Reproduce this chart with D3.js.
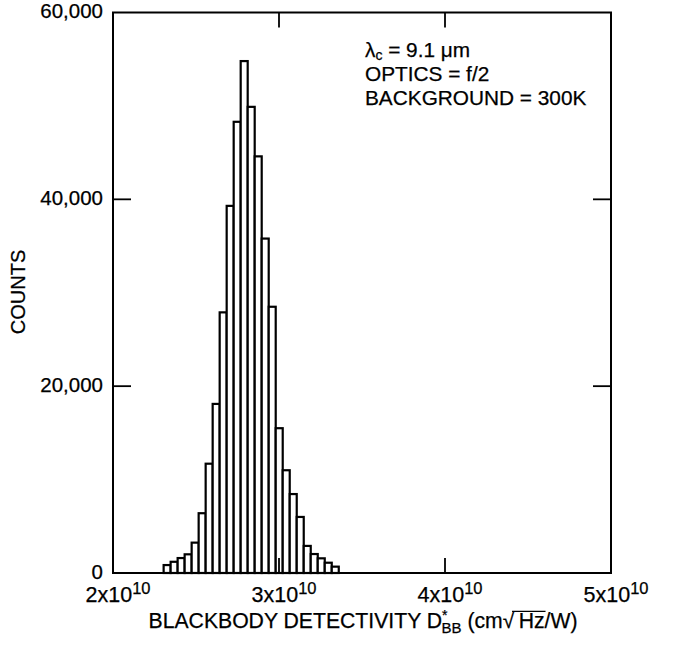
<!DOCTYPE html>
<html>
<head>
<meta charset="utf-8">
<script src="https://cdn.jsdelivr.net/npm/d3@7/dist/d3.min.js"></script>
<style>
  html, body { margin: 0; padding: 0; background: #fff; }
  svg { display: block; }
  text { font-family: "Liberation Sans", Arial, Helvetica, sans-serif; fill: #000; stroke: #000; stroke-width: 0.25px; }
</style>
</head>
<body>
<svg id="chart" width="674" height="645"></svg>
<script>
// ---- data (x in units of 1e10 cm·Hz^1/2/W) ----
const binStart = 2.305;          // left edge of first bin
const binWidth = 0.0422;         // bin width
const counts = [850, 1200, 1600, 2000, 3250, 6400, 11700, 18100, 27900, 39300,
                48300, 54800, 49900, 44600, 35800, 28500, 15500, 11000, 8450, 6000,
                2900, 2030, 1570, 1100, 680];
const yTicks = [0, 20000, 40000, 60000];
const yTickLabels = ["0", "20,000", "40,000", "60,000"];
const xTicks = [2, 3, 4, 5];
const xTickBase = ["2x10", "3x10", "4x10", "5x10"];
const xTickExp = "10";
const notes = ["OPTICS = f/2", "BACKGROUND = 300K"];

const svg = d3.select("#chart");
const mLeft = 113, mRight = 611, mTop = 12.5, mBottom = 573;

const x = d3.scaleLinear().domain([2, 5]).range([mLeft, mRight]);
const y = d3.scaleLinear().domain([0, 60000]).range([mBottom, mTop]);

// bars
const bins = counts.map((c, i) => ({x0: binStart + i * binWidth, x1: binStart + (i + 1) * binWidth, c}));
svg.append("g").selectAll("rect").data(bins).join("rect")
  .attr("x", d => x(d.x0))
  .attr("y", d => y(d.c))
  .attr("width", d => x(d.x1) - x(d.x0))
  .attr("height", d => y(0) - y(d.c))
  .attr("fill", "#fff")
  .attr("stroke", "#000")
  .attr("stroke-width", 2.2);

// frame
svg.append("rect")
  .attr("x", mLeft).attr("y", mTop)
  .attr("width", mRight - mLeft).attr("height", mBottom - mTop)
  .attr("fill", "none").attr("stroke", "#000").attr("stroke-width", 2);

// inward ticks
const tl = 18;
const g = svg.append("g").attr("stroke", "#000").attr("stroke-width", 1.8);
yTicks.slice(1, 3).forEach(t => {
  g.append("line").attr("x1", mLeft).attr("x2", mLeft + tl).attr("y1", y(t)).attr("y2", y(t));
  g.append("line").attr("x1", mRight).attr("x2", mRight - tl).attr("y1", y(t)).attr("y2", y(t));
});
xTicks.slice(1, 3).forEach(t => {
  g.append("line").attr("x1", x(t)).attr("x2", x(t)).attr("y1", mBottom).attr("y2", mBottom - 15);
  g.append("line").attr("x1", x(t)).attr("x2", x(t)).attr("y1", mTop).attr("y2", mTop + 15);
});

// y tick labels
svg.append("g").selectAll("text").data(yTicks).join("text")
  .attr("x", mLeft - 10)
  .attr("y", d => y(d) + 5.5)
  .attr("text-anchor", "end")
  .attr("font-size", 20.5)
  .text((d, i) => yTickLabels[i]);

// x tick labels
xTicks.forEach((t, i) => {
  const tx = svg.append("text")
    .attr("x", x(t) + 5)
    .attr("y", 602)
    .attr("text-anchor", "middle")
    .attr("font-size", 21.5);
  tx.append("tspan").text(xTickBase[i]);
  tx.append("tspan").attr("font-size", 16.5).attr("dy", -8).text(xTickExp);
});

// y axis title
svg.append("text")
  .attr("transform", "translate(25,292) rotate(-90)")
  .attr("text-anchor", "middle")
  .attr("font-size", 20)
  .text("COUNTS");

// x axis title
const titleY = 628, titleFs = 21.2;
const xt = svg.append("text")
  .attr("x", 363).attr("y", titleY)
  .attr("text-anchor", "middle")
  .attr("font-size", titleFs);
xt.append("tspan").text("BLACKBODY DETECTIVITY D");
xt.append("tspan").attr("font-size", 14).attr("dy", -8).text("*");
xt.append("tspan").attr("font-size", 15).attr("dx", -6).attr("dy", 13).text("BB");
xt.append("tspan").attr("dy", -5).text(" (cm\u221A\u2009");
xt.append("tspan").text("Hz/W)");
// overline of the radical
(function () {
  const node = xt.node();
  const full = node.textContent;
  const iR = full.indexOf("\u221A");
  const iZ = full.indexOf("z/");
  const eR = node.getExtentOfChar(iR);
  const eZ = node.getExtentOfChar(iZ);
  const yl = titleY - 0.78 * titleFs;
  svg.append("line")
    .attr("x1", eR.x + eR.width * 0.8).attr("x2", eZ.x + eZ.width + 1)
    .attr("y1", yl).attr("y2", yl)
    .attr("stroke", "#000").attr("stroke-width", 1.2);
})();

// annotation
const a1 = svg.append("text").attr("x", 365).attr("y", 57).attr("font-size", 20.8);
a1.append("tspan").text("\u03BB");
a1.append("tspan").attr("font-size", 14).attr("dy", 3).text("c");
a1.append("tspan").attr("dy", -3).text(" = 9.1 \u03BCm");
notes.forEach((n, i) => {
  svg.append("text").attr("x", 365).attr("y", 81 + i * 24).attr("font-size", 20.8).text(n);
});
</script>
</body>
</html>
